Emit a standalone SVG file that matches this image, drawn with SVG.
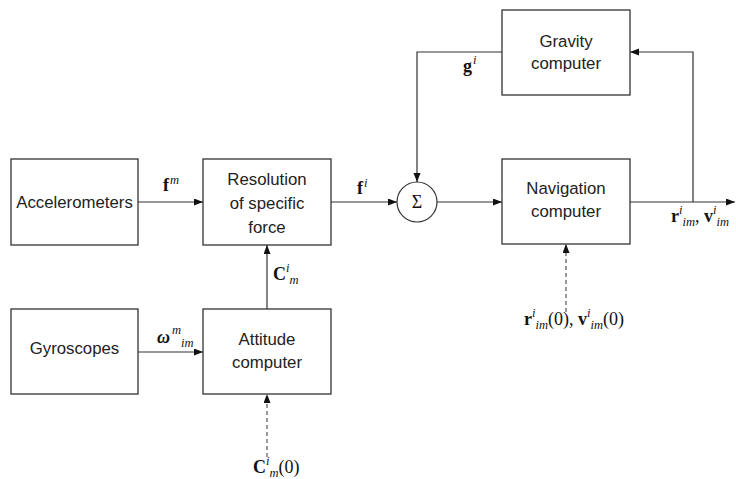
<svg xmlns="http://www.w3.org/2000/svg" width="736" height="479" viewBox="0 0 736 479">
<defs>
<marker id="ah" markerUnits="userSpaceOnUse" markerWidth="10" markerHeight="8" refX="9" refY="3.5" orient="auto">
<path d="M0,0 L9,3.5 L0,7 z" fill="#111"/>
</marker>
<style>
.box{fill:#fff;stroke:#333;stroke-width:1.3}
.lbl{font-family:"Liberation Sans","DejaVu Sans",sans-serif;font-size:16.8px;fill:#222;text-anchor:middle}
.m{font-family:"Liberation Serif","DejaVu Serif",serif;font-size:18px;fill:#111}
.b{font-weight:bold}
.i{font-style:italic}
.s{font-size:12.5px;font-style:italic}
.ln{fill:none;stroke:#333;stroke-width:1.2}
.ar{marker-end:url(#ah)}
.da{stroke:#555;stroke-dasharray:4 3}
</style>
</defs>
<rect width="736" height="479" fill="#fff"/>
<g id="connectors">
<line class="ln ar" x1="138" y1="202" x2="203" y2="202"/>
<line class="ln ar" x1="138" y1="352" x2="203" y2="352"/>
<line class="ln ar" x1="267" y1="309" x2="267" y2="245"/>
<line class="ln ar" x1="331" y1="202" x2="397" y2="202"/>
<polyline class="ln ar" points="502,52 417,52 417,182"/>
<line class="ln ar" x1="437" y1="202" x2="502" y2="202"/>
<line class="ln ar" x1="630" y1="202" x2="735" y2="202"/>
<polyline class="ln ar" points="693,202 693,52 630,52"/>
<line class="ln da ar" x1="267" y1="457" x2="267" y2="394"/>
<line class="ln da ar" x1="566" y1="312" x2="566" y2="244"/>
<text class="m" x="163" y="191"><tspan class="b">f</tspan><tspan class="s" dx="1" dy="-7">m</tspan></text>
<text class="m" x="357" y="194"><tspan class="b">f</tspan><tspan class="s" dx="1" dy="-7">i</tspan></text>
<text class="m" x="273" y="280"><tspan class="b">C</tspan><tspan class="s" dy="-8">i</tspan><tspan class="s" dy="12">m</tspan></text>
<text class="m" x="157" y="343"><tspan class="b i">ω</tspan><tspan class="s" dx="2" dy="-9">m</tspan><tspan class="s" dy="13">im</tspan></text>
<text class="m" x="253" y="473"><tspan class="b">C</tspan><tspan class="s" dy="-8">i</tspan><tspan class="s" dy="12">m</tspan><tspan dy="-4">(0)</tspan></text>
<text class="m" x="463" y="72"><tspan class="b">g</tspan><tspan class="s" dx="1" dy="-8">i</tspan></text>
<text class="m" x="671" y="222"><tspan class="b">r</tspan><tspan class="s" dy="-8">i</tspan><tspan class="s" dy="12">im</tspan><tspan dy="-4">, </tspan><tspan class="b">v</tspan><tspan class="s" dy="-8">i</tspan><tspan class="s" dy="12">im</tspan></text>
<text class="m" x="524" y="325"><tspan class="b">r</tspan><tspan class="s" dy="-8">i</tspan><tspan class="s" dy="12">im</tspan><tspan dy="-4">(0), </tspan><tspan class="b">v</tspan><tspan class="s" dy="-8">i</tspan><tspan class="s" dy="12">im</tspan><tspan dy="-4">(0)</tspan></text>
</g>
<g id="accelerometers">
<rect class="box" x="11" y="159" width="127" height="86"/>
<text class="lbl" x="74.5" y="208">Accelerometers</text>
</g>
<g id="resolution">
<rect class="box" x="203" y="159" width="128" height="86"/>
<text class="lbl" x="267" y="185">Resolution</text>
<text class="lbl" x="267" y="209">of specific</text>
<text class="lbl" x="267" y="233">force</text>
</g>
<g id="gyroscopes">
<rect class="box" x="11" y="309" width="127" height="85"/>
<text class="lbl" x="74.5" y="354">Gyroscopes</text>
</g>
<g id="attitude">
<rect class="box" x="203" y="309" width="128" height="85"/>
<text class="lbl" x="267" y="345">Attitude</text>
<text class="lbl" x="267" y="368">computer</text>
</g>
<g id="sum">
<circle cx="417" cy="202" r="20" fill="#fff" stroke="#333" stroke-width="1.2"/>
<text class="m" x="417" y="208" text-anchor="middle" fill="#555" font-size="16">Σ</text>
</g>
<g id="gravity">
<rect class="box" x="502" y="10" width="128" height="85"/>
<text class="lbl" x="566" y="47">Gravity</text>
<text class="lbl" x="566" y="69">computer</text>
</g>
<g id="navigation">
<rect class="box" x="502" y="159" width="128" height="85"/>
<text class="lbl" x="566" y="194">Navigation</text>
<text class="lbl" x="566" y="217">computer</text>
</g>
</svg>
